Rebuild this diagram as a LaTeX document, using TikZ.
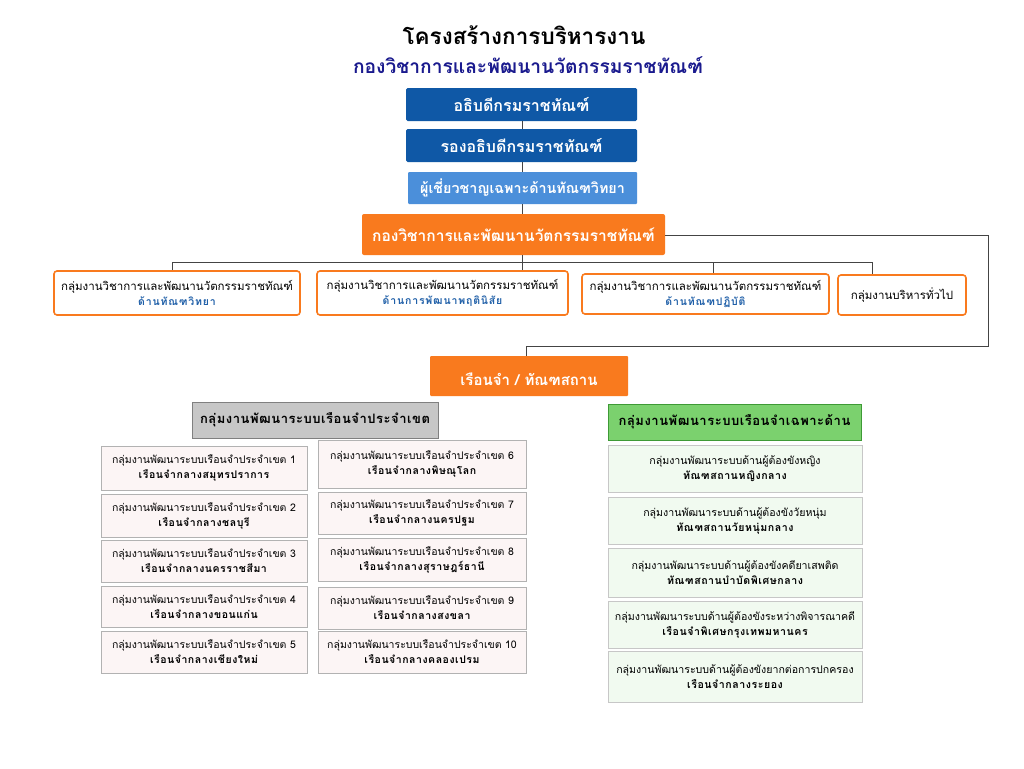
\documentclass[tikz,border=0pt]{standalone}
\usepackage{fontspec}
\setmainfont[Script=Thai]{Loma}
\usetikzlibrary{calc}
\definecolor{dblue}{HTML}{0F58A6}
\definecolor{lblue}{HTML}{4B8FDA}
\definecolor{orng}{HTML}{F97A1E}
\definecolor{navy}{HTML}{1A1A8E}
\definecolor{linkblue}{HTML}{1F5FA8}
\definecolor{pinkfill}{HTML}{FCF5F5}
\definecolor{greenfill}{HTML}{F1FAF0}
\definecolor{ghead}{HTML}{7BD16E}
\definecolor{gborder}{HTML}{3E9A36}
\definecolor{conn}{HTML}{444444}
\tikzset{
  topbox/.style={fill=dblue, draw=none, rounded corners=1.5pt, text=white, font=\bfseries\fontsize{16}{19}\selectfont, inner sep=0pt},
  expbox/.style={fill=lblue, draw=none, rounded corners=1pt, text=white, font=\bfseries\fontsize{14.3}{17}\selectfont, inner sep=0pt},
  orgbox/.style={fill=orng, draw=none, rounded corners=2pt, text=white, font=\bfseries\fontsize{15.5}{18}\selectfont, inner sep=0pt},
  grpbox/.style={fill=white, draw=orng, line width=1.6pt, rounded corners=3pt, align=center, inner sep=0pt, font=\fontsize{11.5}{16}\selectfont},
  pinkbox/.style={fill=pinkfill, draw=black!30, line width=0.8pt, align=center, inner sep=0pt, minimum width=206pt, font=\fontsize{10.5}{15}\selectfont},
  greenbox/.style={fill=greenfill, draw=black!22, line width=0.8pt, align=center, inner sep=0pt, minimum width=254pt, font=\fontsize{10.6}{15}\selectfont},
  conline/.style={draw=conn, line width=1pt},
}
\newcommand{\blu}[1]{{\color{linkblue}\bfseries\fontsize{10.5}{14}\selectfont\addfontfeature{LetterSpace=8}#1}}
\newcommand{\bl}[1]{{\bfseries\addfontfeature{LetterSpace=5}#1}}
\begin{document}
\begin{tikzpicture}[x=1pt,y=-1pt]
\useasboundingbox (0,0) rectangle (1024,768);
\fill[white] (0,0) rectangle (1024,768);
% titles
\node[font=\bfseries\fontsize{22.5}{26}\selectfont] (title) at (524,35) {โครงสร้างการบริหารงาน};
\node[font=\bfseries\fontsize{19.2}{22}\selectfont, text=navy] (subtitle) at (528,65) {กองวิชาการและพัฒนานวัตกรรมราชทัณฑ์};
% top chain
\node[topbox, minimum width=231pt, minimum height=33pt] (b1) at (521.5,104.5) {อธิบดีกรมราชทัณฑ์};
\node[topbox, minimum width=231pt, minimum height=33pt] (b2) at (521.5,145.5) {รองอธิบดีกรมราชทัณฑ์};
\node[expbox, minimum width=229pt, minimum height=32pt] (b3) at (522.5,188) {ผู้เชี่ยวชาญเฉพาะด้านทัณฑวิทยา};
\node[orgbox, minimum width=303pt, minimum height=41pt] (b4) at (513.5,234.5) {กองวิชาการและพัฒนานวัตกรรมราชทัณฑ์};
% second row
\node[grpbox, minimum width=246pt, minimum height=44pt] (gA) at (177,293) {กลุ่มงานวิชาการและพัฒนานวัตกรรมราชทัณฑ์\\[-1pt]\blu{ด้านทัณฑวิทยา}};
\node[grpbox, minimum width=251pt, minimum height=44pt] (gB) at (442.5,293) {กลุ่มงานวิชาการและพัฒนานวัตกรรมราชทัณฑ์\\[-1pt]\blu{ด้านการพัฒนาพฤตินิสัย}};
\node[grpbox, minimum width=247pt, minimum height=40pt] (gC) at (705.5,294) {กลุ่มงานวิชาการและพัฒนานวัตกรรมราชทัณฑ์\\[-1pt]\blu{ด้านทัณฑปฏิบัติ}};
\node[grpbox, minimum width=128pt, minimum height=40pt] (gD) at (902,295) {กลุ่มงานบริหารทั่วไป};
% prison box
\node[orgbox, font=\bfseries\fontsize{15}{18}\selectfont, rounded corners=1pt, minimum width=198pt, minimum height=40pt, text depth=-4pt] (pr) at (529,376) {\raisebox{-6pt}{เรือนจำ / ทัณฑสถาน}};
% headers
\node[fill=black!22, draw=black!50, line width=0.8pt, minimum width=246pt, minimum height=36pt, inner sep=0pt, font=\bfseries\fontsize{13}{16}\selectfont\addfontfeature{LetterSpace=4}] (hL) at (315,420) {กลุ่มงานพัฒนาระบบเรือนจำประจำเขต};
\node[fill=ghead, draw=gborder, line width=1pt, minimum width=253pt, minimum height=36pt, inner sep=0pt, font=\bfseries\fontsize{13}{16}\selectfont\addfontfeature{LetterSpace=4}] (hR) at (734.5,422) {กลุ่มงานพัฒนาระบบเรือนจำเฉพาะด้าน};
% left column
\node[pinkbox, minimum height=44pt] (L1) at (204,468) {กลุ่มงานพัฒนาระบบเรือนจำประจำเขต 1\\\bl{เรือนจำกลางสมุทรปราการ}};
\node[pinkbox, minimum height=43pt] (L2) at (204,515.5) {กลุ่มงานพัฒนาระบบเรือนจำประจำเขต 2\\\bl{เรือนจำกลางชลบุรี}};
\node[pinkbox, minimum height=42pt] (L3) at (204,561) {กลุ่มงานพัฒนาระบบเรือนจำประจำเขต 3\\\bl{เรือนจำกลางนครราชสีมา}};
\node[pinkbox, minimum height=41pt] (L4) at (204,606.5) {กลุ่มงานพัฒนาระบบเรือนจำประจำเขต 4\\\bl{เรือนจำกลางขอนแก่น}};
\node[pinkbox, minimum height=42pt] (L5) at (204,652) {กลุ่มงานพัฒนาระบบเรือนจำประจำเขต 5\\\bl{เรือนจำกลางเชียงใหม่}};
% right column
\node[pinkbox, minimum width=208pt, minimum height=48pt] (R6) at (422,464) {กลุ่มงานพัฒนาระบบเรือนจำประจำเขต 6\\\bl{เรือนจำกลางพิษณุโลก}};
\node[pinkbox, minimum width=208pt, minimum height=42pt] (R7) at (422,513) {กลุ่มงานพัฒนาระบบเรือนจำประจำเขต 7\\\bl{เรือนจำกลางนครปฐม}};
\node[pinkbox, minimum width=208pt, minimum height=43pt] (R8) at (422,559.5) {กลุ่มงานพัฒนาระบบเรือนจำประจำเขต 8\\\bl{เรือนจำกลางสุราษฎร์ธานี}};
\node[pinkbox, minimum width=208pt, minimum height=42pt] (R9) at (422,608) {กลุ่มงานพัฒนาระบบเรือนจำประจำเขต 9\\\bl{เรือนจำกลางสงขลา}};
\node[pinkbox, minimum width=208pt, minimum height=42pt] (R10) at (422,652) {กลุ่มงานพัฒนาระบบเรือนจำประจำเขต 10\\\bl{เรือนจำกลางคลองเปรม}};
% green column
\node[greenbox, minimum height=47pt] (S1) at (735,468.5) {กลุ่มงานพัฒนาระบบด้านผู้ต้องขังหญิง\\\bl{ทัณฑสถานหญิงกลาง}};
\node[greenbox, minimum height=47pt] (S2) at (735,520.5) {กลุ่มงานพัฒนาระบบด้านผู้ต้องขังวัยหนุ่ม\\\bl{ทัณฑสถานวัยหนุ่มกลาง}};
\node[greenbox, minimum height=49pt] (S3) at (735,572.5) {กลุ่มงานพัฒนาระบบด้านผู้ต้องขังคดียาเสพติด\\\bl{ทัณฑสถานบำบัดพิเศษกลาง}};
\node[greenbox, minimum height=47pt] (S4) at (735,624.5) {กลุ่มงานพัฒนาระบบด้านผู้ต้องขังระหว่างพิจารณาคดี\\\bl{เรือนจำพิเศษกรุงเทพมหานคร}};
\node[greenbox, minimum height=51pt] (S5) at (735,676.5) {กลุ่มงานพัฒนาระบบด้านผู้ต้องขังยากต่อการปกครอง\\\bl{เรือนจำกลางระยอง}};
% connectors
\coordinate (vx) at (522,0);
\draw[conline] (b1.south -| vx) -- (b2.north -| vx);
\draw[conline] (b2.south -| vx) -- (b3.north -| vx);
\draw[conline] (b3.south -| vx) -- (b4.north -| vx);
\draw[conline] (b4.south -| vx) -- (gB.north -| vx);
\coordinate (busL) at (172,262);
\coordinate (busR) at (872,262);
\coordinate (busC) at (713,262);
\draw[conline] (busL) -- (busR);
\draw[conline] (busL) -- (busL |- gA.north);
\draw[conline] (busC) -- (busC |- gC.north);
\draw[conline] (busR) -- (busR |- gD.north);
\coordinate (r1) at (988,235);
\coordinate (r2) at (988,346);
\coordinate (r3) at (526,346);
\draw[conline] (b4.east |- r1) -- (r1) -- (r2) -- (r3) -- (r3 |- pr.north);
\end{tikzpicture}
\end{document}
